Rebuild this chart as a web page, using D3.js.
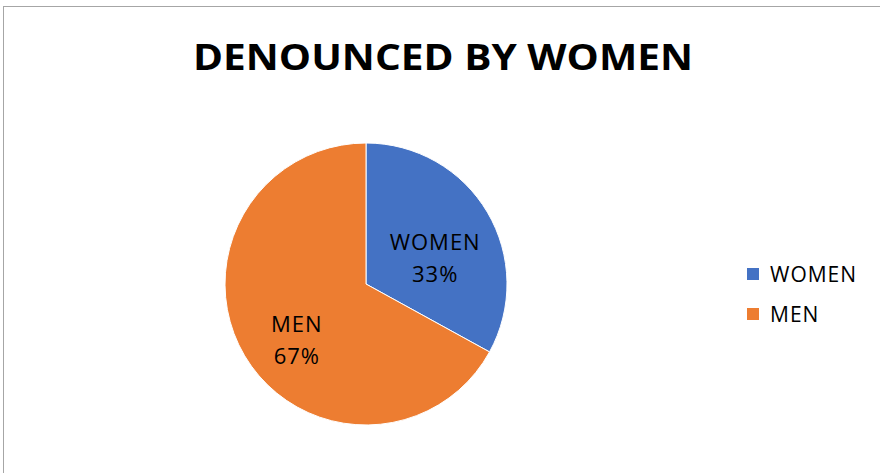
<!DOCTYPE html>
<html>
<head>
<meta charset="utf-8">
<script src="https://cdn.jsdelivr.net/npm/d3@7"></script>
<style>
  html, body { margin: 0; padding: 0; background: #fff; }
  svg { display: block; font-family: "Open Sans", "Noto Sans", sans-serif; }
</style>
</head>
<body>
<svg id="chart" width="880" height="473"></svg>
<script>
// Share of denunciations by sex
const categories = ["WOMEN", "MEN"];
const values = [33, 67];
const colors = ["#4472C4", "#ED7D31"];
const titleText = "DENOUNCED BY WOMEN";

const svg = d3.select("#chart");
const W = 880, H = 473;

// chart area frame
svg.append("rect")
  .attr("x", 3.5).attr("y", 6.5)
  .attr("width", W + 10).attr("height", H + 10)
  .attr("fill", "#fff")
  .attr("stroke", "#a6a6a6").attr("stroke-width", 1);

// title
svg.append("text")
  .attr("x", 443).attr("y", 70)
  .attr("text-anchor", "middle")
  .attr("font-size", 35).attr("font-weight", 700)
  .attr("textLength", 500).attr("lengthAdjust", "spacingAndGlyphs")
  .attr("fill", "#000")
  .text(titleText);

const cx = 366, cy = 284, r = 141;
const pie = d3.pie().sort(null).value(d => d.value);
const data = categories.map((c, i) => ({ name: c, value: values[i], color: colors[i] }));
const arcs = pie(data);
const arc = d3.arc().innerRadius(0).outerRadius(r);
const labelArc = d3.arc().innerRadius(r * 0.57).outerRadius(r * 0.57);
const total = d3.sum(values);

const g = svg.append("g").attr("transform", `translate(${cx},${cy})`);
g.selectAll("path").data(arcs).join("path")
  .attr("d", arc)
  .attr("fill", d => d.data.color)
  .attr("stroke", "#fff").attr("stroke-width", 1);

// slice labels: name and percentage
const lbl = g.selectAll("text.lbl").data(arcs).join("text")
  .attr("class", "lbl")
  .attr("text-anchor", "middle")
  .attr("font-size", 22)
  .attr("letter-spacing", 1)
  .attr("fill", "#000")
  .attr("transform", d => {
    const [x, y] = labelArc.centroid(d);
    return `translate(${x},${y + 15})`;
  });
lbl.append("tspan").attr("x", 0).attr("y", -8).text(d => d.data.name);
lbl.append("tspan").attr("x", 0).attr("y", 24)
  .text(d => Math.round(d.data.value / total * 100) + "%");

// legend
const legend = svg.append("g").attr("transform", "translate(747,268)");
const items = legend.selectAll("g").data(data).join("g")
  .attr("transform", (d, i) => `translate(0,${i * 40})`);
items.append("rect").attr("width", 12).attr("height", 12).attr("fill", d => d.color);
items.append("text").attr("x", 23).attr("y", 14)
  .attr("font-size", 21).attr("letter-spacing", 1).attr("fill", "#000")
  .text(d => d.name);
</script>
</body>
</html>
